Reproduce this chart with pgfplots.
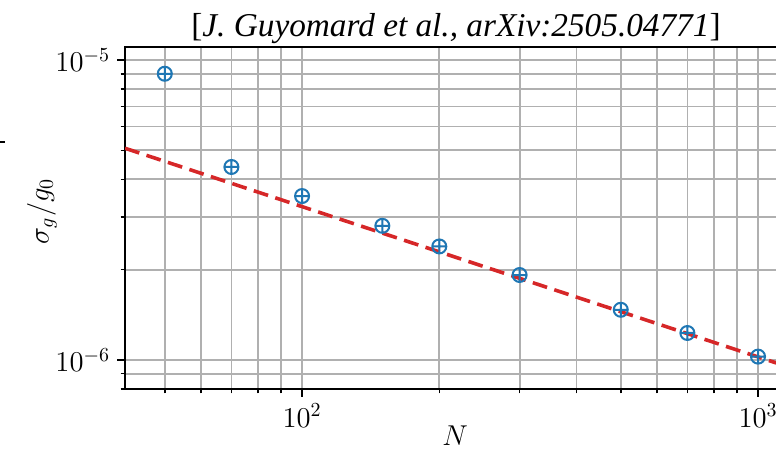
\documentclass[border=0pt]{standalone}
\usepackage{fontspec}
\usepackage{pgfplots}
\pgfplotsset{compat=1.18}
\newfontfamily\titlefont{Liberation Serif}
\definecolor{mplblue}{HTML}{1F77B4}
\definecolor{mplred}{HTML}{D62728}
\definecolor{gridgray}{HTML}{B0B0B0}
\begin{document}
\begin{tikzpicture}
\begin{axis}[
  scale only axis, width=330bp, height=171bp,
  xmode=log, ymode=log,
  xmin=40.9, xmax=1146, ymin=8.0e-7, ymax=1.105e-5,
  grid=both,
  major grid style={gridgray, line width=0.9bp},
  minor grid style={gridgray, line width=0.9bp},
  axis line style={black, line width=1bp},
  tick align=outside, xtick pos=left, ytick pos=left,
  major tick length=4bp, minor tick length=2.2bp,
  every tick/.style={black, line width=0.8bp},
  tick label style={font=\fontsize{14}{16}\selectfont},
  xlabel={$N$}, ylabel={$\sigma_g/g_0$},
  every axis x label/.style={at={(axis description cs:0.5,0)}, anchor=center, yshift=-23.5bp, font=\fontsize{14}{16}\selectfont},
  every axis y label/.style={at={(axis description cs:0,0.52)}, xshift=-41.5bp, rotate=90, anchor=center, font=\fontsize{14}{16}\selectfont},
  clip mode=individual,
]
\addplot[mplred, line width=1.8bp, dash pattern=on 7.5bp off 3.8bp] coordinates {(40.9,5.08e-6) (1146,9.56e-7)};
\addplot[only marks, mark=oplus, mark size=3.5bp, mplblue, mark options={line width=1bp}] coordinates {
(50,9.0e-6) (70,4.40e-6) (100,3.52e-6) (150,2.80e-6) (200,2.39e-6) (300,1.92e-6) (500,1.47e-6) (700,1.23e-6) (1000,1.026e-6)};
\coordinate (SW) at (rel axis cs:0,0);
\end{axis}
\node[anchor=base, font=\titlefont\fontsize{16.7}{19}\selectfont] at ([xshift=165.5bp,yshift=176bp]SW) {[\textit{J. Guyomard et al., arXiv:2505.04771}]};
\draw[line width=1bp] ([xshift=-62.5bp,yshift=123.5bp]SW) -- ++(2.5bp,0);
\pgfresetboundingbox
\path[use as bounding box] ([xshift=-62.5bp,yshift=-30.5bp]SW) rectangle ([xshift=325.5bp,yshift=194.5bp]SW);
\end{tikzpicture}
\end{document}
